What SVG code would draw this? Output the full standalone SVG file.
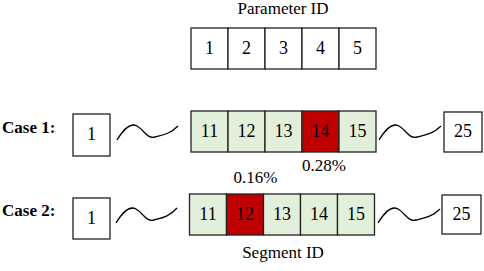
<svg xmlns="http://www.w3.org/2000/svg" width="484" height="271" viewBox="0 0 484 271">
<defs>
<style>
.w{fill:#fff;stroke:#222;stroke-width:1.3}
.g{fill:#e2efda;stroke:#222;stroke-width:1.3}
.r{fill:#c00000;stroke:#222;stroke-width:1.3}
.wave{fill:none;stroke:#000;stroke-width:1.3}
</style>
</defs>
<rect width="484" height="271" fill="#fff"/>
<g id="param">
<text font-family="Liberation Serif" style="font-family:'Liberation Serif',serif;font-size:17px" text-anchor="middle" x="283" y="14">Parameter ID</text>
<rect class="w" x="191" y="28" width="37" height="41"/><text font-family="Liberation Serif" style="font-family:'Liberation Serif',serif;font-size:18px" text-anchor="middle" x="209.5" y="54">1</text>
<rect class="w" x="228" y="28" width="37" height="41"/><text font-family="Liberation Serif" style="font-family:'Liberation Serif',serif;font-size:18px" text-anchor="middle" x="246.5" y="54">2</text>
<rect class="w" x="265" y="28" width="37" height="41"/><text font-family="Liberation Serif" style="font-family:'Liberation Serif',serif;font-size:18px" text-anchor="middle" x="283.5" y="54">3</text>
<rect class="w" x="302" y="28" width="37" height="41"/><text font-family="Liberation Serif" style="font-family:'Liberation Serif',serif;font-size:18px" text-anchor="middle" x="320.5" y="54">4</text>
<rect class="w" x="339" y="28" width="37" height="41"/><text font-family="Liberation Serif" style="font-family:'Liberation Serif',serif;font-size:18px" text-anchor="middle" x="357.5" y="54">5</text>
</g>
<g id="case1">
<text font-family="Liberation Serif" style="font-family:'Liberation Serif',serif;font-size:17px;font-weight:bold" x="2" y="133">Case 1:</text>
<rect class="w" x="73" y="114" width="37" height="42"/><text font-family="Liberation Serif" style="font-family:'Liberation Serif',serif;font-size:18px" text-anchor="middle" x="91.5" y="140">1</text>
<rect class="g" x="191" y="111" width="37" height="41"/><text font-family="Liberation Serif" style="font-family:'Liberation Serif',serif;font-size:18px" text-anchor="middle" x="209.5" y="137">11</text>
<rect class="g" x="228" y="111" width="37" height="41"/><text font-family="Liberation Serif" style="font-family:'Liberation Serif',serif;font-size:18px" text-anchor="middle" x="246.5" y="137">12</text>
<rect class="g" x="265" y="111" width="37" height="41"/><text font-family="Liberation Serif" style="font-family:'Liberation Serif',serif;font-size:18px" text-anchor="middle" x="283.5" y="137">13</text>
<rect class="r" x="302" y="111" width="37" height="41"/><text font-family="Liberation Serif" style="font-family:'Liberation Serif',serif;font-size:18px" text-anchor="middle" x="320.5" y="137">14</text>
<rect class="g" x="339" y="111" width="37" height="41"/><text font-family="Liberation Serif" style="font-family:'Liberation Serif',serif;font-size:18px" text-anchor="middle" x="357.5" y="137">15</text>
<rect class="w" x="444" y="112" width="38" height="40"/><text font-family="Liberation Serif" style="font-family:'Liberation Serif',serif;font-size:18px" text-anchor="middle" x="463" y="137">25</text>
<text font-family="Liberation Serif" style="font-family:'Liberation Serif',serif;font-size:17px" text-anchor="middle" x="324" y="171">0.28%</text>
</g>
<g id="case2">
<text font-family="Liberation Serif" style="font-family:'Liberation Serif',serif;font-size:17px;font-weight:bold" x="2" y="216">Case 2:</text>
<rect class="w" x="73" y="198" width="37" height="41"/><text font-family="Liberation Serif" style="font-family:'Liberation Serif',serif;font-size:18px" text-anchor="middle" x="91.5" y="224">1</text>
<rect class="g" x="189.5" y="194" width="37" height="41"/><text font-family="Liberation Serif" style="font-family:'Liberation Serif',serif;font-size:18px" text-anchor="middle" x="208" y="220">11</text>
<rect class="r" x="226.5" y="194" width="37" height="41"/><text font-family="Liberation Serif" style="font-family:'Liberation Serif',serif;font-size:18px" text-anchor="middle" x="245" y="220">12</text>
<rect class="g" x="263.5" y="194" width="37" height="41"/><text font-family="Liberation Serif" style="font-family:'Liberation Serif',serif;font-size:18px" text-anchor="middle" x="282" y="220">13</text>
<rect class="g" x="300.5" y="194" width="37" height="41"/><text font-family="Liberation Serif" style="font-family:'Liberation Serif',serif;font-size:18px" text-anchor="middle" x="319" y="220">14</text>
<rect class="g" x="337.5" y="194" width="37" height="41"/><text font-family="Liberation Serif" style="font-family:'Liberation Serif',serif;font-size:18px" text-anchor="middle" x="356" y="220">15</text>
<rect class="w" x="442" y="195" width="39" height="39"/><text font-family="Liberation Serif" style="font-family:'Liberation Serif',serif;font-size:18px" text-anchor="middle" x="461.5" y="220">25</text>
<text font-family="Liberation Serif" style="font-family:'Liberation Serif',serif;font-size:17px" text-anchor="middle" x="255.5" y="183">0.16%</text>
<text font-family="Liberation Serif" style="font-family:'Liberation Serif',serif;font-size:17px" text-anchor="middle" x="283" y="258">Segment ID</text>
</g>
<g id="connectors">
<path class="wave" d="M117,140 C123,130 130,122 137,126 C144,130 147,139 155,137 C163,135 170,134 178,126"/>
<path class="wave" d="M379,140 C385,130 392,122 399,126 C406,130 409,139 417,137 C425,135 433,134 441,126"/>
<path class="wave" d="M116,223 C122,213 129,205 136,209 C143,213 146,222 154,220 C162,218 169,217 177,208"/>
<path class="wave" d="M378,223 C384,213 391,205 398,209 C405,213 408,222 416,220 C424,218 432,217 440,209"/>
</g>
</svg>
